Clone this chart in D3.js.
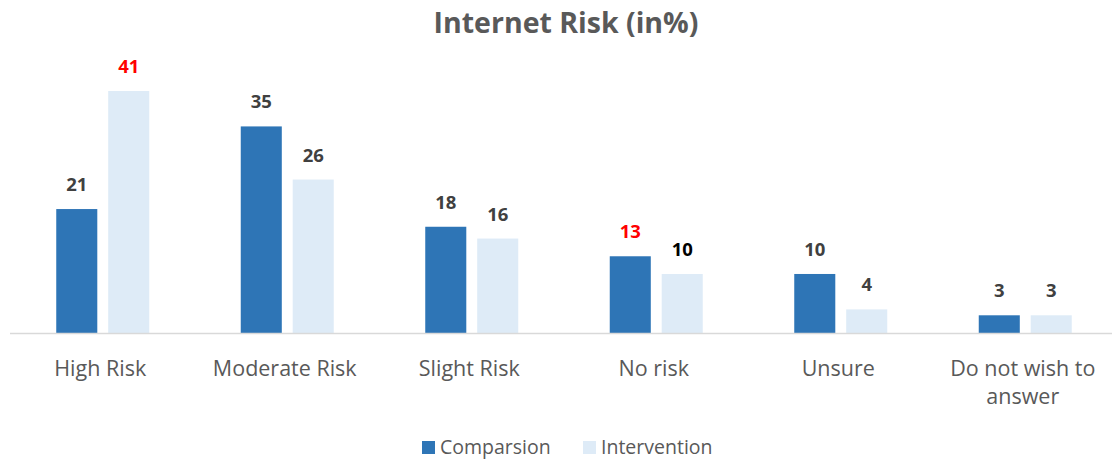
<!DOCTYPE html>
<html>
<head>
<meta charset="utf-8">
<script src="https://cdn.jsdelivr.net/npm/d3@7"></script>
<style>
  html, body { margin: 0; padding: 0; background: #fff; }
  svg { display: block; font-family: "Open Sans", "Noto Sans", sans-serif; }
</style>
</head>
<body>
<svg id="chart" width="1112" height="460"></svg>
<script>
// Survey categories and the two series (percent)
const categories = ["High Risk", "Moderate Risk", "Slight Risk", "No risk", "Unsure", "Do not wish to answer"];
const comparison = [21, 35, 18, 13, 10, 3];
const intervention = [41, 26, 16, 10, 4, 3];
const seriesNames = ["Comparsion", "Intervention"];
const seriesColors = ["#2E75B6", "#DEEBF7"];
// Highlight colours for particular value labels
const comparisonLabelColors = ["#404040", "#404040", "#404040", "#FF0000", "#404040", "#404040"];
const interventionLabelColors = ["#FF0000", "#404040", "#404040", "#000000", "#404040", "#404040"];

const svg = d3.select("#chart");
const baseY = 333;

const x = d3.scaleBand().domain(categories).range([8, 1115]).paddingInner(0).paddingOuter(0);
const sub = d3.scaleBand().domain(seriesNames)
  .range([x.bandwidth() / 2 - 44, x.bandwidth() / 2 + 49])
  .paddingInner(0.21).paddingOuter(0);
const y = d3.scaleLinear().domain([0, 41]).range([baseY, 91]);

// Title
svg.append("text")
  .attr("x", 566).attr("y", 33)
  .attr("text-anchor", "middle")
  .attr("font-size", 28.5).attr("font-weight", "bold")
  .attr("fill", "#595959")
  .text("Internet Risk (in%)");

const rows = categories.map((c, i) => ({ cat: c, vals: [comparison[i], intervention[i]], cols: [comparisonLabelColors[i], interventionLabelColors[i]] }));

const groups = svg.selectAll("g.cat").data(rows).join("g")
  .attr("class", "cat")
  .attr("transform", d => `translate(${x(d.cat)},0)`);

groups.selectAll("rect").data(d => d.vals.map((v, j) => ({ v, s: seriesNames[j], j }))).join("rect")
  .attr("x", d => sub(d.s))
  .attr("width", sub.bandwidth())
  .attr("y", d => y(d.v))
  .attr("height", d => baseY - y(d.v))
  .attr("fill", d => seriesColors[d.j]);

groups.selectAll("text.val").data(d => d.vals.map((v, j) => ({ v, s: seriesNames[j], c: d.cols[j] }))).join("text")
  .attr("class", "val")
  .attr("x", d => sub(d.s) + sub.bandwidth() / 2)
  .attr("y", d => y(d.v) - 18)
  .attr("text-anchor", "middle")
  .attr("font-size", 18.5).attr("font-weight", "bold")
  .attr("fill", d => d.c)
  .text(d => d.v);

// Category axis
const axis = d3.axisBottom(x).tickSize(0).tickPadding(0);
const gAxis = svg.append("g").attr("transform", `translate(0,${baseY})`).call(axis);
gAxis.select(".domain").remove();
svg.append("line")
  .attr("x1", 10).attr("x2", 1112)
  .attr("y1", baseY + 0.5).attr("y2", baseY + 0.5)
  .attr("stroke", "#D9D9D9").attr("stroke-width", 1.5);

gAxis.selectAll(".tick text")
  .attr("font-size", 21.5)
  .attr("font-family", "'Open Sans', 'Noto Sans', sans-serif")
  .attr("fill", "#595959")
  .attr("dy", null)
  .attr("y", 42.5)
  .each(function(d) {
    const t = d3.select(this);
    if (d === "Do not wish to answer") {
      t.text(null);
      t.append("tspan").attr("x", 0).attr("y", 42.5).text("Do not wish to");
      t.append("tspan").attr("x", 0).attr("y", 70.5).text("answer");
    }
  });

// Legend
const legend = svg.append("g");
const legendX = [422, 583];
seriesNames.forEach((name, i) => {
  const g = legend.append("g").attr("transform", `translate(${legendX[i]},441)`);
  g.append("rect").attr("width", 13).attr("height", 13).attr("fill", seriesColors[i]);
  g.append("text").attr("x", 18).attr("y", 13)
    .attr("font-size", 19.5).attr("fill", "#595959")
    .text(name);
});
</script>
</body>
</html>
